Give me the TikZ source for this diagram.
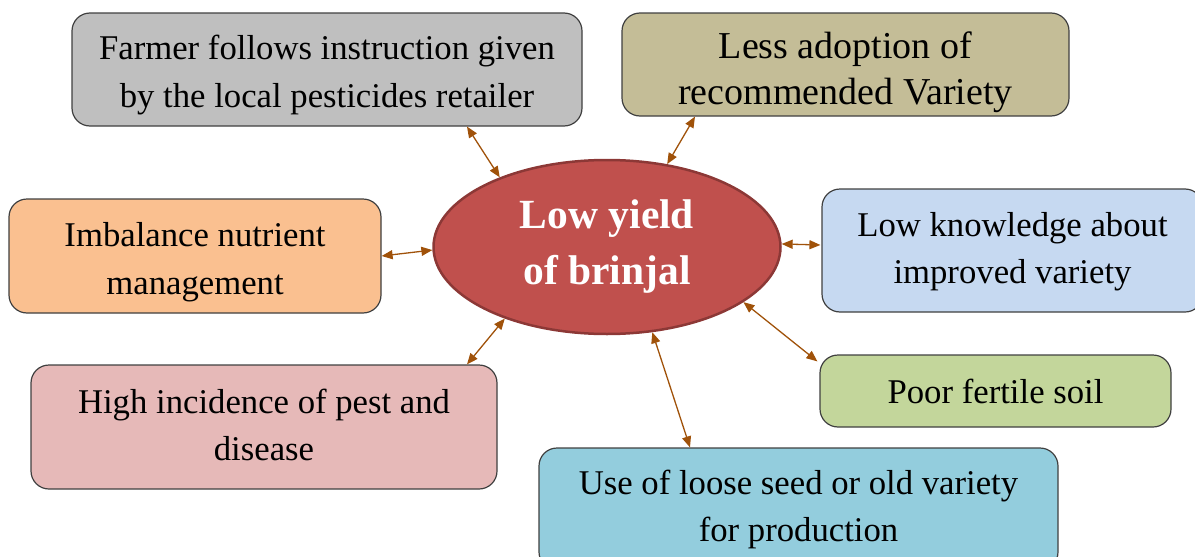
\documentclass[tikz,border=0pt]{standalone}
\usepackage{fontspec}
\setmainfont{Liberation Serif}
\usetikzlibrary{arrows.meta,shapes.geometric,calc}
\definecolor{arrowc}{HTML}{A0520A}
\definecolor{cgray}{HTML}{BFBFBF}
\definecolor{ctan}{HTML}{C4BD97}
\definecolor{corange}{HTML}{FAC090}
\definecolor{clblue}{HTML}{C6D9F1}
\definecolor{cgreen}{HTML}{C3D69B}
\definecolor{cpink}{HTML}{E6B9B8}
\definecolor{cblue}{HTML}{93CDDD}
\definecolor{cred}{HTML}{C0504D}
\definecolor{credb}{HTML}{8C3836}
\tikzset{
  box/.style={draw=black!75, rounded corners=18pt, line width=1.2pt, inner sep=0pt},
  lbl/.style={align=center, inner sep=0pt, font=\fontsize{34.7}{47}\selectfont},
  arr/.style={draw=arrowc, line width=1.3pt, {Triangle[length=11pt,width=9pt]}-{Triangle[length=11pt,width=9pt]}},
}
\begin{document}
\begin{tikzpicture}[x=1pt,y=-1pt]
\useasboundingbox (0,0) rectangle (1195,557);
\node[box, fill=cgray, minimum width=510pt, minimum height=113pt,
  label={[lbl,yshift=-5.5pt,font=\fontsize{34.7}{48}\selectfont]center:{Farmer follows instruction given\\by the local pesticides retailer}}] (gray) at (327,69.5) {};
\node[box, fill=ctan, minimum width=447pt, minimum height=103pt,
  label={[lbl,yshift=-8pt,font=\fontsize{38}{46}\selectfont]center:{Less adoption of\\recommended Variety}}] (tan) at (845.5,64.5) {};
\node[box, fill=corange, minimum width=372pt, minimum height=114pt,
  label={[lbl,yshift=-6pt,font=\fontsize{34.7}{48}\selectfont]center:{Imbalance nutrient\\management}}] (orange) at (195,256) {};
\node[box, fill=clblue, minimum width=381pt, minimum height=123pt,
  label={[lbl,yshift=-1pt]center:{Low knowledge about\\improved variety}}] (lblue) at (1012.5,250.5) {};
\node[box, fill=cgreen, minimum width=351pt, minimum height=72pt,
  label={[lbl]center:{Poor fertile soil}}] (green) at (995.5,391) {};
\node[box, fill=cpink, minimum width=466pt, minimum height=124pt,
  label={[lbl,yshift=2pt]center:{High incidence of pest and\\disease}}] (pink) at (264,427) {};
\node[box, fill=cblue, minimum width=519pt, minimum height=122pt,
  label={[lbl]center:{Use of loose seed or old variety\\for production}}] (blue) at (798.5,509) {};
\node[ellipse, fill=cred, draw=credb, line width=2.5pt, minimum width=347pt, minimum height=174pt,
  inner sep=0pt, align=center, text=white, font=\fontsize{41.5}{56}\selectfont\bfseries] (el) at (607,247)
  {Low yield\\of brinjal};
\draw[arr] ([xshift=140pt]gray.south) -- (el.147.5);
\draw[arr] ([xshift=-150.5pt]tan.south) -- (el.54.7);
\draw[arr] (orange.east) -- (el.181);
\draw[arr] ($(lblue.west)+(-1,-5.5)$) -- (el.1);
\draw[arr] ($(green.north west)+(-2,7)$) -- (el.-22);
\draw[arr] ([xshift=203pt]pink.north) -- (el.215);
\draw[arr] ([xshift=-108.5pt]blue.north) -- (el.-62);
\end{tikzpicture}
\end{document}
